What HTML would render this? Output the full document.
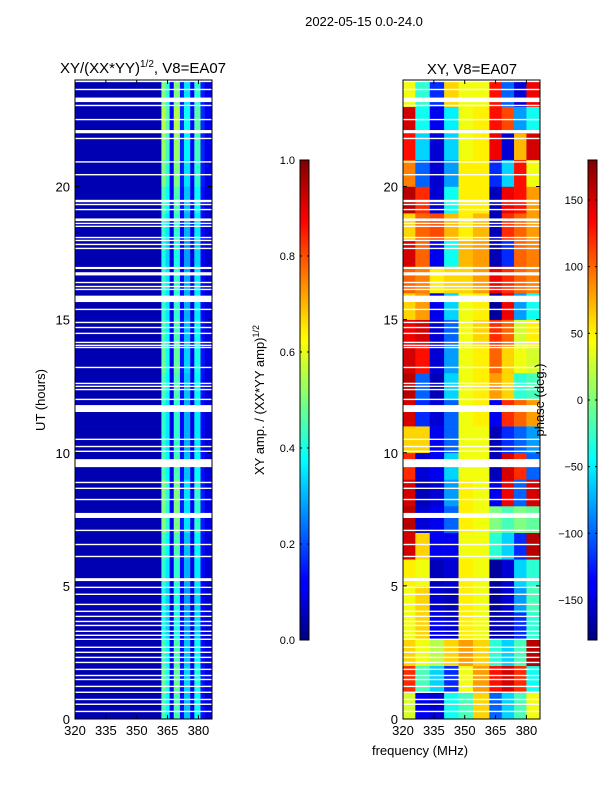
<!DOCTYPE html>
<html><head><meta charset="utf-8">
<style>
body{margin:0;background:#fff;}
svg text{font-family:"Liberation Sans",sans-serif;fill:#000;}
</style></head>
<body>
<svg id="fig" width="600" height="800" viewBox="0 0 600 800" xmlns="http://www.w3.org/2000/svg">
<defs>
<linearGradient id="jet" x1="0" y1="1" x2="0" y2="0">
<stop offset="0" stop-color="#00007f"/><stop offset="0.11" stop-color="#0000ff"/>
<stop offset="0.125" stop-color="#0000ff"/><stop offset="0.34" stop-color="#00dcff"/>
<stop offset="0.375" stop-color="#00ffff"/><stop offset="0.5" stop-color="#7dff7a"/>
<stop offset="0.625" stop-color="#ffff00"/><stop offset="0.66" stop-color="#ffe000"/>
<stop offset="0.875" stop-color="#ff0000"/><stop offset="1" stop-color="#7f0000"/>
</linearGradient>
</defs>
<text x="364" y="26" font-size="13" text-anchor="middle">2022-05-15 0.0-24.0</text>
<g id="left"></g>
<g id="right"></g>
<g id="cb"></g>
<text x="143" y="73" font-size="15" text-anchor="middle">XY/(XX*YY)<tspan font-size="10" dy="-6">1/2</tspan><tspan dy="6">, V8=EA07</tspan></text>
<text x="472" y="74" font-size="15" text-anchor="middle">XY, V8=EA07</text>
<text transform="translate(45,400) rotate(-90)" font-size="13" text-anchor="middle">UT (hours)</text>
<text x="420" y="755" font-size="13" text-anchor="middle">frequency (MHz)</text>
<text transform="translate(264,400) rotate(-90)" font-size="13" text-anchor="middle">XY amp. / (XX*YY amp)<tspan font-size="9" dy="-5">1/2</tspan></text>
<text transform="translate(544,400) rotate(-90)" font-size="13" text-anchor="middle">phase (deg.)</text>
</svg>
<script>
const hourTicks=[0,5,10,15,20];
const freqTicks=[320,335,350,365,380];
const ampTicks=[0.0,0.2,0.4,0.6,0.8,1.0];
const phaseTicks=[-150,-100,-50,0,50,100,150];
const ampFreqEdges=[320,362,364,366,368,371,373,376,378,381,383,386.6];
const ampColValues=[0.05,0.5,0.42,0.12,0.5,0.15,0.35,0.12,0.42,0.15,0.1];
const ampRowFactor=[0.9,0.95,0.9,0.8,0.8,0.85,0.9,1.0,1.0,0.9,0.85,0.85,0.9,0.95,0.9,0.85,0.85,0.8,0.85,0.9,1.0,1.05,1.1,1.0];
const phaseFreqEdges=[320,326,333,340,347,354,362,368,374,380,386.6];
const phaseGrid=[
[30,-140,-150,-40,-20,60,-100,-60,-20,40],
[120,-20,-60,-120,40,80,130,150,120,-40],
[60,40,20,60,80,60,-30,-60,-20,160],
[40,60,-140,-150,50,40,-160,-160,-120,-30],
[40,60,-150,-160,50,40,-170,-150,-80,-20],
[50,40,-160,-150,50,40,-170,-150,-60,-30],
[150,60,-140,-140,40,40,-30,-60,-120,160],
[160,-150,-140,-100,50,40,0,-20,0,-10],
[150,-160,-150,-80,50,40,-140,140,-100,150],
[120,-150,-140,-60,40,40,-160,150,120,-100],
[60,60,-140,-100,40,40,-160,-120,-100,-80],
[150,-120,-150,-100,40,50,-140,120,100,80],
[160,-100,-160,-60,40,50,80,60,-30,-20],
[150,130,-150,-80,40,50,100,60,40,30],
[140,150,-150,-100,40,60,120,100,30,50],
[60,80,-140,-60,40,50,-170,140,-80,-40],
[100,90,50,60,60,80,140,120,100,90],
[150,100,-140,-40,70,80,-160,-120,100,90],
[60,100,110,70,50,70,-160,120,100,80],
[160,120,-150,-40,50,50,-160,140,130,80],
[90,-100,-150,-80,50,50,-120,-60,130,40],
[130,-60,-150,-60,40,50,140,-150,70,150],
[150,-40,-140,-50,40,50,130,110,-80,-40],
[40,-30,-120,60,40,40,130,-100,-150,140]];
const gapStarts=[23.92,23.62,23.17,23.02,22.49,22.0,21.78,20.9,20.42,19.41,19.3,19.11,18.7,18.59,18.48,18.06,17.95,17.8,17.65,16.9,16.66,16.37,16.22,16.11,15.66,15.36,14.87,14.68,14.46,14.12,14.01,13.93,13.18,12.58,12.47,12.35,11.98,11.53,10.48,10.21,10.03,9.46,8.86,8.64,8.22,7.55,7.06,6.53,6.08,5.18,4.92,4.66,4.28,4.02,3.83,3.64,3.49,3.27,3.12,2.97,2.67,2.48,2.29,2.1,1.84,1.61,1.46,1.2,0.98,0.71,0.53,0.26];
const gapDur=[0.08,0.05,0.17,0.05,0.05,0.12,0.05,0.05,0.05,0.09,0.05,0.05,0.1,0.05,0.05,0.05,0.05,0.05,0.05,0.08,0.12,0.05,0.05,0.05,0.24,0.05,0.05,0.05,0.05,0.05,0.05,0.05,0.05,0.05,0.05,0.05,0.05,0.26,0.05,0.05,0.05,0.3,0.05,0.05,0.05,0.19,0.05,0.05,0.05,0.11,0.05,0.05,0.05,0.05,0.05,0.05,0.05,0.05,0.05,0.05,0.05,0.05,0.05,0.05,0.05,0.05,0.05,0.05,0.05,0.05,0.05,0.05];

const NS='http://www.w3.org/2000/svg';
const FMIN=320,FMAX=386.6,HMIN=0,HMAX=24,TOP=80,BOT=719;
function yH(h){return BOT-(h-HMIN)/(HMAX-HMIN)*(BOT-TOP);}
function xF(f,x0){return x0+(f-FMIN)/(FMAX-FMIN)*137;}
function jet(v){v=Math.max(0,Math.min(1,v));
 const c=t=>Math.round(255*Math.max(0,Math.min(1,t)));
 const r=c(Math.min(4*v-1.5,-4*v+4.5)),g=c(Math.min(4*v-0.5,-4*v+3.5)),b=c(Math.min(4*v+0.5,-4*v+2.5));
 return 'rgb('+r+','+g+','+b+')';}
function mk(tag,attrs,parent){const e=document.createElementNS(NS,tag);for(const k in attrs)e.setAttribute(k,attrs[k]);parent.appendChild(e);return e;}

function panel(gid,x0,kind){
 const g=document.getElementById(gid);
 const cells=mk('g',{},g);
 
 
 for(let r=0;r<24;r++){
  if(kind==='amp'){
   for(let c=0;c<ampColValues.length;c++){
    const v=c===0?ampColValues[c]:ampColValues[c]*ampRowFactor[r];
    const x1=xF(ampFreqEdges[c],x0),x2=xF(ampFreqEdges[c+1],x0);
    const rc=mk('rect',{x:x1,y:yH(r+1),width:x2-x1+0.3,height:yH(r)-yH(r+1)+0.3,fill:jet(v)},cells);
    
    
   }
  } else {
   for(let c=0;c<phaseGrid[r].length;c++){
    const v=(phaseGrid[r][c]+180)/360;
    const x1=xF(phaseFreqEdges[c],x0),x2=xF(phaseFreqEdges[c+1],x0);
    const rc=mk('rect',{x:x1,y:yH(r+1),width:x2-x1+0.3,height:yH(r)-yH(r+1)+0.3,fill:jet(v)},cells);
    
    
   }
  }
 }
 for(let i=0;i<gapStarts.length;i++){
  const h=Math.max(1.4,(gapDur[i])*26.63);
  const gr=mk('rect',{x:x0,y:yH(gapStarts[i]+gapDur[i]),width:137,height:h,fill:'#fff'},g);
  
  
 }
 const fr=mk('rect',{x:x0,y:TOP,width:137,height:BOT-TOP,fill:'none',stroke:'#000','stroke-width':1},g);
 
 
 hourTicks.forEach(h=>{
  const y=yH(h);
  mk('line',{x1:x0,x2:x0+4,y1:y,y2:y,stroke:'#000'},g);
  mk('line',{x1:x0+137,x2:x0+133,y1:y,y2:y,stroke:'#000'},g);
  const t=mk('text',{x:x0-5,y:y+5,'font-size':13,'text-anchor':'end'},g);
  t.textContent=h;
  
  
 });
 freqTicks.forEach(f=>{
  const x=xF(f,x0);
  mk('line',{x1:x,x2:x,y1:BOT,y2:BOT-4,stroke:'#000'},g);
  mk('line',{x1:x,x2:x,y1:TOP,y2:TOP+4,stroke:'#000'},g);
  const t=mk('text',{x:x,y:BOT+16,'font-size':13,'text-anchor':'middle'},g);
  t.textContent=f;
  
  
 });
}
panel('left',75,'amp');
panel('right',403,'phase');

function colorbar(x,vmin,vmax,ticks,fmt,name){
 const g=document.getElementById('cb');
 const top=160,bot=640;
 const r=mk('rect',{x:x,y:top,width:9,height:bot-top,fill:'url(#jet)',stroke:'#000','stroke-width':1},g);
 
 
 ticks.forEach(v=>{
  const y=bot-(v-vmin)/(vmax-vmin)*(bot-top);
  mk('line',{x1:x,x2:x+2,y1:y,y2:y,stroke:'#000'},g);
  mk('line',{x1:x+9,x2:x+7,y1:y,y2:y,stroke:'#000'},g);
  const t=mk('text',{x:x-5,y:y+4,'font-size':11,'text-anchor':'end'},g);
  t.textContent=fmt(v);
  
  
 });
}
colorbar(300,0,1,ampTicks,v=>v.toFixed(1),'amp-colorbar');
colorbar(588,-180,180,phaseTicks,v=>v<0?'\u2212'+(-v):String(v),'phase-colorbar');
</script>
</body></html>
